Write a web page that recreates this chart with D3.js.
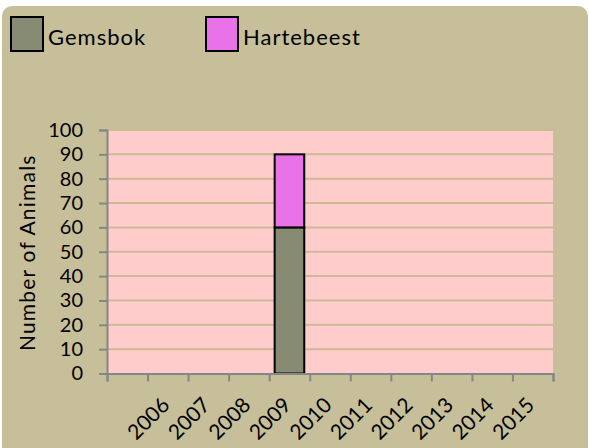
<!DOCTYPE html>
<html>
<head>
<meta charset="utf-8">
<script src="https://cdn.jsdelivr.net/npm/d3@7"></script>
<style>
  body { margin: 0; background: #fff; }
  svg { display: block; font-family: Lato, "Open Sans", sans-serif; }
</style>
</head>
<body>
<div id="app"></div>
<script>
const years = ["", "2006", "2007", "2008", "2009", "2010", "2011", "2012", "2013", "2014", "2015"];
const gemsbok = [0, 0, 0, 0, 60, 0, 0, 0, 0, 0, 0];
const hartebeest = [0, 0, 0, 0, 30, 0, 0, 0, 0, 0, 0];
const seriesNames = ["Gemsbok", "Hartebeest"];
const seriesColors = ["#878B73", "#E873E8"];
const yTicks = [0, 10, 20, 30, 40, 50, 60, 70, 80, 90, 100];

const chart = () => {
  const width = 589;
  const height = 448;
  const plot = { left: 107, right: 553, top: 130, bottom: 373.5 };

  const svg = d3.create("svg").attr("width", width).attr("height", height);

  svg
    .append("rect")
    .attr("x", 2)
    .attr("y", 6)
    .attr("width", 586)
    .attr("height", 460)
    .attr("rx", 10)
    .attr("fill", "#C6BF99");

  const x = d3
    .scaleBand()
    .domain(years.map((d, i) => i))
    .range([plot.left, plot.right])
    .paddingInner(0.27)
    .paddingOuter(0.135);

  const xTick = d3
    .scaleLinear()
    .domain([0, years.length])
    .range([plot.left, plot.right]);

  const y = d3.scaleLinear().domain([0, 100]).range([plot.bottom, plot.top]);

  svg
    .append("rect")
    .attr("x", plot.left)
    .attr("y", plot.top)
    .attr("width", plot.right - plot.left)
    .attr("height", plot.bottom - plot.top)
    .attr("fill", "#FFCCCC");

  // gridlines
  svg
    .append("g")
    .selectAll("line")
    .data(yTicks.filter((d) => d > 0))
    .join("line")
    .attr("x1", plot.left)
    .attr("x2", plot.right)
    .attr("y1", (d) => y(d))
    .attr("y2", (d) => y(d))
    .attr("stroke", "#CBBA93")
    .attr("stroke-width", 2);

  // stacked bars
  const table = years.map((yr, i) => ({ i, Gemsbok: gemsbok[i], Hartebeest: hartebeest[i] }));
  const stacked = d3.stack().keys(seriesNames)(table);

  svg
    .append("g")
    .selectAll("g")
    .data(stacked)
    .join("g")
    .attr("fill", (d, k) => seriesColors[k])
    .selectAll("rect")
    .data((d) => d.filter((p) => p[1] - p[0] > 0))
    .join("rect")
    .attr("x", (d) => x(d.data.i))
    .attr("width", x.bandwidth())
    .attr("y", (d) => y(d[1]))
    .attr("height", (d) => y(d[0]) - y(d[1]))
    .attr("stroke", "#000")
    .attr("stroke-width", 2);

  // y axis
  const yAxis = svg
    .append("g")
    .attr("transform", `translate(${plot.left},0)`)
    .call(d3.axisLeft(y).tickValues(yTicks).tickSize(8).tickPadding(16));
  yAxis.select(".domain").attr("stroke", "#868686").attr("stroke-width", 2);
  yAxis.selectAll(".tick line").attr("stroke", "#868686").attr("stroke-width", 2);
  yAxis
    .selectAll(".tick text")
    .attr("fill", "#000")
    .style("font-size", "20px")
    .style("font-family", "Lato, 'Open Sans', sans-serif");

  // x axis
  const xAxis = svg
    .append("g")
    .attr("transform", `translate(0,${plot.bottom})`)
    .call(
      d3
        .axisBottom(xTick)
        .tickValues(d3.range(years.length + 1))
        .tickSize(8)
        .tickFormat("")
    );
  xAxis.select(".domain").attr("stroke", "#868686").attr("stroke-width", 2);
  xAxis.selectAll(".tick line").attr("stroke", "#868686").attr("stroke-width", 2);

  svg
    .append("g")
    .selectAll("text")
    .data(years.map((d, i) => ({ d, i })).filter((o) => o.d))
    .join("text")
    .attr(
      "transform",
      (o) => `translate(${x(o.i) + x.bandwidth() / 2 + 3},${plot.bottom + 33}) rotate(-45)`
    )
    .attr("text-anchor", "end")
    .style("font-size", "21px")
    .text((o) => o.d);

  svg
    .append("text")
    .text("Number of Animals")
    .attr("transform", `translate(35,${(plot.top + plot.bottom) / 2 + 1}) rotate(-90)`)
    .attr("text-anchor", "middle")
    .style("font-size", "21px")
    .style("letter-spacing", "1.2px");

  // legend
  const legendX = [11, 206];
  seriesNames.forEach((name, k) => {
    svg
      .append("rect")
      .attr("x", legendX[k])
      .attr("y", 17)
      .attr("width", 32)
      .attr("height", 34)
      .attr("fill", seriesColors[k])
      .attr("stroke", "#000")
      .attr("stroke-width", 2);
    svg
      .append("text")
      .text(name)
      .attr("x", legendX[k] + 37)
      .attr("y", 45)
      .style("font-size", "22px")
      .style("letter-spacing", "1px");
  });

  return svg.node();
};

d3.select("#app").append(chart);
</script>
</body>
</html>
